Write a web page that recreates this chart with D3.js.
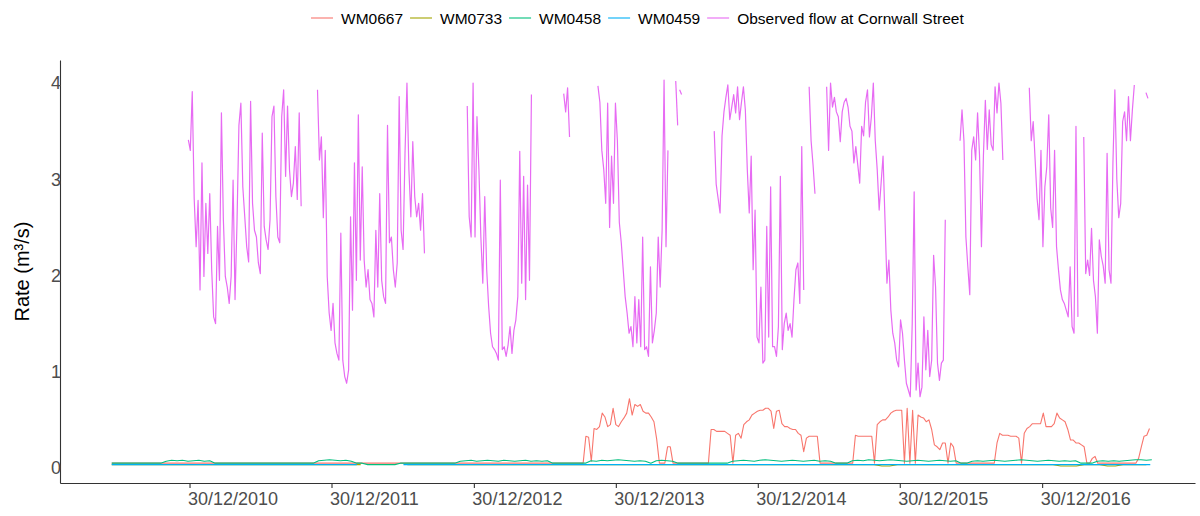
<!DOCTYPE html>
<html>
<head>
<meta charset="utf-8">
<script src="https://cdn.jsdelivr.net/npm/d3@7"></script>
<style>
  html, body { margin: 0; padding: 0; background: #ffffff; }
  svg { display: block; font-family: "Liberation Sans", Arial, Helvetica, sans-serif; }
</style>
</head>
<body>
<svg id="chart" width="1200" height="516"></svg>
<script>
// ---------------- DATA ----------------
const seriesNames = ["WM0667", "WM0733", "WM0458", "WM0459", "Observed flow at Cornwall Street"];
const seriesColors = ["#F8766D", "#A3A500", "#00BF7D", "#00B0F6", "#E76BF3"];
const xTickDates = ["2010-12-30", "2011-12-30", "2012-12-30", "2013-12-30", "2014-12-30", "2015-12-30", "2016-12-30"];
const yTickValues = [0, 1, 2, 3, 4];
const xDomainDates = ["2010-01-31", "2018-01-27"];
const yDomainValues = [-0.156, 4.239];

// Observed flow at Cornwall Street: segments (start date, one value every 5 days)
const obsStepDays = 5;
const obsStarts = ["2010-12-27", "2011-11-24", "2012-12-13", "2013-08-18", "2013-11-14", "2014-06-02",
                   "2014-06-12", "2014-09-09", "2015-05-11", "2015-06-25", "2016-06-02", "2016-11-27", "2017-09-23"];
const obsSeg1 = [3.41,3.30,3.91,2.80,2.30,2.78,1.85,3.17,1.99,2.75,2.23,2.85,2.06,1.57,1.50,2.51,1.95,3.69,2.58,1.99,
                 1.88,1.71,1.99,2.99,1.75,2.54,3.56,3.79,2.92,2.61,2.30,2.14,3.81,2.75,2.47,2.40,2.13,2.02,3.48,2.51,
                 2.37,2.27,2.58,3.65,3.76,2.82,2.40,2.34,3.65,3.93,3.03,3.76,3.10,2.82,2.96,3.34,2.79,3.69,2.72];
const obsSeg2 = [3.93,3.20,3.44,2.60,3.30,1.99,1.61,1.43,1.71,1.30,1.19,1.12,2.44,1.12,0.95,0.88,1.02,2.61,1.64,3.17,
                 1.95,3.67,2.16,3.13,2.16,1.88,2.06,1.75,1.71,1.57,2.47,1.88,2.85,1.95,1.78,1.71,3.56,2.34,2.40,2.06,
                 1.88,2.13,3.86,2.47,2.27,3.27,4.00,3.10,2.61,3.39,2.82,2.61,2.75,2.47,2.85,2.23];
const obsSeg3 = [3.76,2.61,2.40,4.00,2.40,3.65,3.10,2.40,1.92,2.82,2.06,1.68,1.40,1.26,1.23,1.19,1.12,2.99,1.23,1.26,
                 1.16,1.28,1.47,1.19,1.43,1.54,1.78,3.29,1.92,3.03,1.75,2.94,1.95,3.88];
const obsSeg3b = [3.89,3.70,3.95,3.44];
const obsSeg4 = [3.97,3.80,3.30,3.10,2.75,3.79,2.50,3.24,2.75,3.79,3.40,2.55,2.34,2.06,1.78,1.61,1.40,1.47,1.26,1.78,
                 1.30,1.75,1.26,2.40,1.23,1.26,1.16,2.09,1.30,1.43,1.61,2.40,1.88,2.47,4.03,2.30,3.30];
const obsSeg4b = [4.02,3.56];
const obsSeg4c = [3.93,3.88];
const obsSeg5 = [3.50,2.95,2.80,2.65,3.45,3.70,3.85,3.98,3.62,3.75,3.88,3.69,3.96,3.62,3.80,3.96,3.72,3.10,2.65,3.24,
                 2.06,2.68,1.36,1.30,1.88,1.09,1.12,2.51,1.36,2.92,1.26,1.26,1.16,1.47,3.03,1.23,1.50,1.61,1.43,1.50,
                 1.36,1.75,2.06,2.13,1.71,3.34,1.85];
const obsSeg5b = [3.96,3.40,3.15,2.85];
const obsSeg6 = [3.96,3.30,4.00,3.75,3.85,3.70,3.65,3.39,3.70,3.80,3.84,3.75,3.55,3.50,3.17,3.34,3.15,2.96,3.55,3.45,
                 3.80,3.93,3.44,3.65,4.00,3.40,3.10,2.68,2.96,3.24,2.58,1.92,2.16,1.64,1.40,1.30,1.12,1.05,1.54,1.40,
                 1.12,0.88,0.81,0.74,1.50,2.87,0.81,1.09,0.74,0.84,1.57,1.02,1.43,0.95,1.12,2.21,1.88,1.09,0.91,1.09,
                 1.12,2.58];
const obsSeg7 = [3.40,3.72,3.40,2.40,2.09,1.80,3.30,3.44,3.20,3.69,3.25,2.30,3.24,3.82,3.31,3.72,3.36,3.30,3.96,3.69,
                 4.00,3.79,3.20];
const obsSeg8 = [3.95,3.40,3.60,3.20,2.80,2.58,3.30,2.30,2.92,3.13,3.67,2.70,2.50,3.30,2.30,2.06,1.85,1.75,1.71,1.64,
                 1.57,2.09,1.47,1.40,3.55,1.57,null,null,3.44,2.02,2.16,2.00,2.49,1.95,1.78,1.40,2.37,2.20,2.10,1.92,
                 3.27,2.06,1.92,3.17,3.93,3.00,2.60,2.75,3.60,3.70,3.40,3.86,3.40,3.72,3.98];
const obsSeg8b = [3.90,3.84];

// WM0667: long quiet stretch (one value every 30 days), then active period (one value every 7 days)
const wm0667EarlyStart = "2010-06-13";
const wm0667EarlyStep = 30;
const wm0667Early = [0.05,0.05,0.05,0.05,0.05,0.05,0.05,0.05,0.05,0.05,0.05,0.05,0.05,0.05,0.05,0.05,0.05,0.05,0.05,0.05,
                     0.05,0.05,0.05,0.05,0.05,0.05,0.05,0.05,0.05,0.05,0.05,0.05,0.05,0.05,0.05,0.05,0.05,0.05,0.05,0.05];
const wm0667Start = "2013-09-16";
const wm0667Step = 7;
const wm0667Values = [0.05,0.05,0.05,0.05,
  0.33,0.32,0.07,0.41,0.40,0.43,0.57,0.53,0.43,0.45,0.62,0.45,0.43,0.48,0.52,0.57,0.72,0.55,0.66,0.64,0.66,0.59,0.57,0.57,0.53,0.48,0.30,0.05,0.05,0.05,0.22,0.22,0.05,
  0.05,0.05,0.05,0.05,0.05,0.05,0.05,0.05,0.05,0.05,0.05,0.05,0.05,
  0.40,0.40,0.38,0.38,0.38,0.38,0.36,0.34,0.05,0.34,0.36,0.31,0.45,0.48,0.50,0.55,0.57,0.59,0.60,0.60,0.62,0.62,0.59,0.41,0.59,0.60,0.46,0.43,0.43,0.41,0.40,0.40,0.36,0.34,0.17,0.31,0.33,0.33,0.33,0.33,0.05,
  0.05,0.05,0.05,0.05,0.05,0.05,0.05,0.05,0.05,0.05,0.05,0.05,
  0.34,0.33,0.33,0.33,0.33,0.33,0.33,0.05,0.45,0.48,0.50,0.50,0.53,0.57,0.59,0.60,0.60,0.60,0.05,0.62,0.05,0.60,0.05,0.55,0.53,0.52,0.48,0.50,0.40,0.24,0.22,0.19,0.26,0.26,0.05,0.26,0.22,0.05,
  0.05,0.05,0.05,0.05,0.05,0.05,0.05,0.05,0.05,0.05,0.05,0.05,0.05,
  0.05,0.26,0.36,0.34,0.34,0.34,0.33,0.33,0.33,0.31,0.05,0.36,0.41,0.43,0.46,0.46,0.46,0.46,0.57,0.43,0.43,0.43,0.46,0.57,0.52,0.50,0.48,0.40,0.29,0.29,0.26,0.26,0.24,0.22,0.05,0.05,0.10,0.12,0.05,
  0.05,0.05,0.05,0.05,0.05,0.05,0.05,0.05,0.05,0.05,0.05,0.05,0.05,0.05,
  0.10,0.22,0.33,0.34,0.41];

// WM0733: one value every 20 days (gap = missing record)
const wm0733Start = "2010-06-13";
const wm0733Step = 20;
const wm0733Values = [
  0.035,0.035,0.035,0.035,0.035,0.035,0.035,0.035,0.035,0.035,0.035,0.035,0.035,0.035,0.035,0.035,0.035,0.035,0.035,0.035,
  0.035,0.035,0.035,0.035,0.035,0.035,0.035,0.035,0.035,0.035,0.035,0.035,0.035,null,null,null,null,null,0.035,0.035,
  0.035,0.035,0.035,0.035,0.035,0.035,0.035,0.035,0.035,0.035,0.035,0.035,0.035,0.035,0.035,0.035,0.035,0.035,0.035,0.035,
  0.035,0.035,0.035,0.035,0.035,0.035,0.035,0.035,0.035,0.035,0.035,0.035,0.035,0.035,0.035,0.035,0.035,0.035,0.035,0.035,
  0.035,0.035,0.035,0.035,0.035,0.035,0.035,0.035,0.035,0.035,0.035,0.035,0.035,0.035,0.035,0.035,0.035,0.035,0.035,0.02,
  0.02,0.035,0.035,0.035,0.035,0.035,0.035,0.035,0.035,0.035,0.035,0.035,0.035,0.035,0.035,0.035,0.035,0.035,0.035,0.035,
  0.035,0.035,0.02,0.02,0.02,0.035,0.035,0.035,0.02,0.02,0.035,0.035,0.035,0.035];

// WM0458: one value every 14 days
const wm0458Start = "2010-06-13";
const wm0458Step = 14;
const wm0458Values = [
  0.05,0.05,0.05,0.05,0.05,0.05,0.05,0.05,0.05,0.05,
  0.07,0.08,0.075,0.08,0.07,0.075,0.08,0.07,0.075,
  0.05,0.05,0.05,0.05,0.05,0.05,0.05,0.05,0.05,0.05,0.05,0.05,0.05,0.05,0.05,0.05,0.05,0.05,0.05,
  0.075,0.08,0.085,0.08,0.075,0.08,0.07,
  0.05,0.05,
  0.035,0.035,0.035,0.035,0.035,0.035,
  0.05,0.05,0.05,0.05,0.05,0.05,0.05,0.05,0.05,0.05,0.05,
  0.07,0.075,0.08,0.07,0.075,0.08,0.075,0.07,0.08,0.075,0.07,0.075,0.08,0.07,0.075,0.07,0.075,
  0.05,0.05,0.05,0.05,0.05,0.05,0.05,
  0.075,0.07,0.08,0.075,0.08,0.085,0.08,0.075,0.07,0.075,0.07,
  0.05,
  0.075,0.08,0.075,0.07,
  0.05,0.05,0.05,0.05,0.05,0.05,0.05,0.05,0.05,0.05,
  0.07,0.075,0.08,0.075,0.07,0.08,0.085,0.08,0.075,0.07,0.075,0.08,0.075,0.07,0.075,0.08,0.07,0.075,0.07,
  0.05,0.05,0.05,
  0.075,0.08,0.075,0.085,0.08,0.075,0.08,0.085,0.08,0.075,0.07,0.075,0.08,0.075,0.07,0.075,0.08,0.075,0.07,0.075,
  0.05,0.05,
  0.07,0.075,0.07,0.075,0.08,0.075,0.07,0.075,0.08,0.085,0.08,0.075,0.07,0.075,0.08,0.075,0.07,0.075,0.07,0.075,
  0.05,0.05,0.05,
  0.07,0.075,0.07,0.075,0.07,0.075,0.08,0.085,0.085,0.08,0.085];

// WM0459: one value every 30 days (gap = missing record)
const wm0459Start = "2010-06-13";
const wm0459Step = 30;
const wm0459Values = [
  0.035,0.035,0.035,0.035,0.035,0.035,0.035,0.035,0.035,0.035,0.035,0.035,0.035,0.035,0.035,0.035,0.035,0.035,0.035,0.035,
  0.035,0.035,null,null,null,0.035,0.035,0.035,0.035,0.035,0.035,0.035,0.035,0.035,0.035,0.035,0.035,0.035,0.035,0.035,
  0.035,0.035,0.035,0.035,0.035,0.035,0.035,0.035,0.035,0.035,0.035,0.035,0.035,0.035,0.035,0.035,0.035,0.035,0.035,0.035,
  0.035,0.035,0.035,0.035,0.035,0.035,0.035,0.035,0.035,0.035,0.035,0.035,0.035,0.035,0.035,0.035,0.035,0.035,0.035,0.035,
  0.035,0.035,0.035,0.035,0.035,0.035,0.035,0.035,0.035,0.035];

// ---------------- CHART ----------------
const parse = d3.utcParse("%Y-%m-%d");
function stepSeries(start, step, values) {
  const t0 = parse(start);
  return values.map((v, i) => ({ date: d3.utcDay.offset(t0, i * step), v }));
}

const svg = d3.select("#chart");
const margin = { left: 60, right: 5, top: 60, bottom: 33 };
const W = 1200, H = 516;

const x = d3.scaleUtc().domain(xDomainDates.map(parse)).range([margin.left, W - margin.right]);
const y = d3.scaleLinear().domain(yDomainValues).range([H - margin.bottom, margin.top]);

const line = d3.line()
  .defined(d => d.v !== null && d.v !== undefined)
  .x(d => x(d.date))
  .y(d => y(d.v));

const obsSegs = [obsSeg1, obsSeg2, obsSeg3, obsSeg3b, obsSeg4, obsSeg4b, obsSeg4c, obsSeg5, obsSeg5b, obsSeg6, obsSeg7, obsSeg8, obsSeg8b];

const seriesPaths = [
  [stepSeries(wm0667EarlyStart, wm0667EarlyStep, wm0667Early).concat(stepSeries(wm0667Start, wm0667Step, wm0667Values))],
  [stepSeries(wm0733Start, wm0733Step, wm0733Values)],
  [stepSeries(wm0458Start, wm0458Step, wm0458Values)],
  [stepSeries(wm0459Start, wm0459Step, wm0459Values)],
  obsSegs.map((vals, i) => stepSeries(obsStarts[i], obsStepDays, vals))
];

const plot = svg.append("g");
seriesPaths.forEach((paths, si) => {
  plot.selectAll(null).data(paths).enter().append("path")
    .attr("d", line)
    .attr("fill", "none")
    .attr("stroke", seriesColors[si])
    .attr("stroke-width", si === 4 ? 1.2 : 1.1)
    .attr("stroke-linejoin", "round");
});

// X axis
const xAxis = d3.axisBottom(x)
  .tickValues(xTickDates.map(parse))
  .tickFormat(d3.utcFormat("%d/%m/%Y"))
  .tickSize(5).tickSizeOuter(0).tickPadding(4);
const gx = svg.append("g").attr("transform", `translate(0,${H - margin.bottom})`).call(xAxis);
gx.select(".domain").attr("stroke", "#333333").attr("stroke-width", 1.1);
gx.selectAll(".tick line").attr("stroke", "#333333").attr("stroke-width", 1.1);
gx.selectAll(".tick text")
  .attr("fill", "#4D4D4D")
  .attr("font-size", 18)
  .attr("font-family", "Liberation Sans, Arial, sans-serif")
  .attr("text-anchor", "start")
  .attr("x", -2);

// Y axis
const yAxis = d3.axisLeft(y).tickValues(yTickValues).tickFormat(d3.format("d")).tickSize(0).tickPadding(-1);
const gy = svg.append("g").attr("transform", `translate(${margin.left},0)`).call(yAxis);
gy.select(".domain").attr("stroke", "#333333").attr("stroke-width", 1.1);
gy.selectAll(".tick text")
  .attr("fill", "#4D4D4D")
  .attr("font-size", 18)
  .attr("font-family", "Liberation Sans, Arial, sans-serif");

// Y title
svg.append("text")
  .attr("transform", `translate(22,${(margin.top + H - margin.bottom) / 2 + 0}) rotate(-90)`)
  .attr("text-anchor", "middle")
  .attr("dominant-baseline", "central")
  .attr("font-size", 20)
  .attr("fill", "#000000")
  .text("Rate (m³/s)");

// Legend (flow layout)
const legend = svg.append("g").attr("transform", "translate(311,18)");
let lx = 0;
seriesNames.forEach((name, i) => {
  const g = legend.append("g").attr("transform", `translate(${lx},0)`);
  g.append("line").attr("x1", 0).attr("x2", 22).attr("y1", 0).attr("y2", 0)
    .attr("stroke", seriesColors[i]).attr("stroke-width", 1.1);
  const t = g.append("text").attr("x", 30).attr("y", 0)
    .attr("dominant-baseline", "central")
    .attr("font-size", 15.5).attr("fill", "#000000").text(name);
  const w = t.node().getComputedTextLength();
  lx += 30 + w + 7;
});
</script>
</body>
</html>
